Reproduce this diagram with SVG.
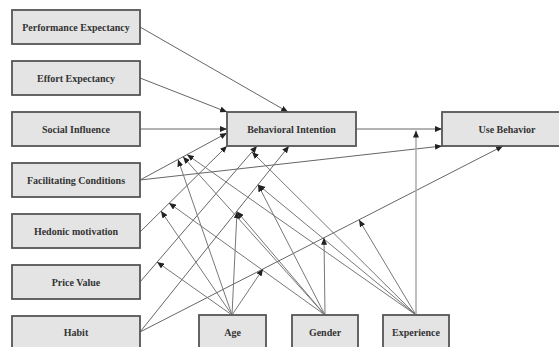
<svg xmlns="http://www.w3.org/2000/svg" width="559" height="347" viewBox="0 0 559 347">
<defs>
<marker id="ah" markerWidth="7" markerHeight="6" refX="7" refY="3" orient="auto" markerUnits="userSpaceOnUse"><path d="M0,0 L7,3 L0,6 z" fill="#222"/></marker>
<style>
.box{fill:#e4e4e4;stroke:#555;stroke-width:1.8}
.lbl{font-family:"Liberation Serif",serif;font-weight:bold;font-size:10px;fill:#333;text-anchor:middle}
.ln{stroke:#666;stroke-width:1;fill:none;marker-end:url(#ah)}
.md{stroke:#777;stroke-width:1;fill:none;marker-end:url(#ah)}
.vx{stroke:#aaa;stroke-width:1.5;fill:none;marker-end:url(#ah)}
</style>
</defs>
<rect width="559" height="347" fill="#fff"/>
<g id="connectors">
<line class="ln" x1="140" y1="27" x2="288" y2="112"/>
<line class="ln" x1="140" y1="78" x2="227" y2="112"/>
<line class="ln" x1="140" y1="129" x2="227" y2="129"/>
<line class="ln" x1="140" y1="180" x2="227" y2="133"/>
<line class="ln" x1="140" y1="180" x2="442" y2="146"/>
<line class="ln" x1="140" y1="232" x2="227" y2="146"/>
<line class="ln" x1="140" y1="282" x2="257" y2="146"/>
<line class="ln" x1="140" y1="332" x2="289" y2="146"/>
<line class="ln" x1="140" y1="332" x2="503" y2="146"/>
<line class="ln" x1="356" y1="129" x2="442" y2="129"/>
<line class="md" x1="232" y1="315" x2="178" y2="159.5"/>
<line class="md" x1="325" y1="315" x2="183" y2="156.8"/>
<line class="md" x1="416" y1="315" x2="187" y2="154.6"/>
<line class="md" x1="232" y1="315" x2="161" y2="211"/>
<line class="md" x1="325" y1="315" x2="169" y2="203"/>
<line class="md" x1="232" y1="315" x2="157" y2="262"/>
<line class="md" x1="416" y1="315" x2="252" y2="152"/>
<line class="md" x1="232" y1="315" x2="237" y2="211.5"/>
<line class="md" x1="325" y1="315" x2="237" y2="211.5"/>
<line class="md" x1="325" y1="315" x2="258" y2="184.7"/>
<line class="md" x1="416" y1="315" x2="258" y2="184.7"/>
<line class="md" x1="232" y1="315" x2="263" y2="269"/>
<line class="md" x1="325" y1="315" x2="324" y2="237.7"/>
<line class="md" x1="416" y1="315" x2="359" y2="219.8"/>
<line class="vx" x1="416" y1="315" x2="416" y2="130.5"/>
</g>
<g id="pe"><rect class="box" x="12" y="10" width="128" height="34"/><text class="lbl" x="76" y="30.5">Performance Expectancy</text></g>
<g id="ee"><rect class="box" x="12" y="61" width="128" height="34"/><text class="lbl" x="76" y="81.5">Effort Expectancy</text></g>
<g id="si"><rect class="box" x="12" y="112" width="128" height="34"/><text class="lbl" x="76" y="132.5">Social Influence</text></g>
<g id="fc"><rect class="box" x="12" y="163" width="128" height="34"/><text class="lbl" x="76" y="183.5">Facilitating Conditions</text></g>
<g id="hm"><rect class="box" x="12" y="214" width="128" height="34"/><text class="lbl" x="76" y="234.5">Hedonic motivation</text></g>
<g id="pv"><rect class="box" x="12" y="265" width="128" height="34"/><text class="lbl" x="76" y="285.5">Price Value</text></g>
<g id="habit"><rect class="box" x="12" y="316" width="128" height="34"/><text class="lbl" x="76" y="336">Habit</text></g>
<g id="bi"><rect class="box" x="227" y="112" width="129" height="34"/><text class="lbl" x="291.5" y="132.5">Behavioral Intention</text></g>
<g id="ub"><rect class="box" x="442" y="112" width="130" height="34"/><text class="lbl" x="507" y="132.5">Use Behavior</text></g>
<g id="age"><rect class="box" x="199" y="315" width="67" height="34"/><text class="lbl" x="232.5" y="336">Age</text></g>
<g id="gender"><rect class="box" x="292" y="315" width="66" height="34"/><text class="lbl" x="325" y="336">Gender</text></g>
<g id="experience"><rect class="box" x="383" y="315" width="66" height="34"/><text class="lbl" x="416" y="336">Experience</text></g>
</svg>
